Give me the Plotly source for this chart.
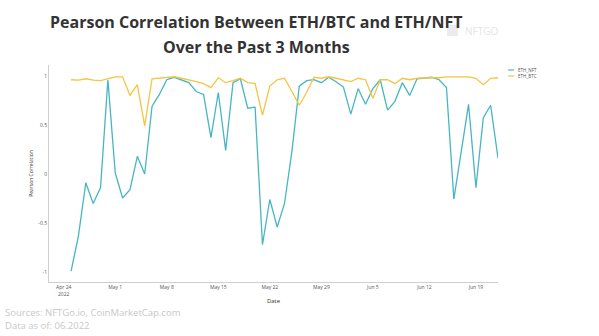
import pandas as pd
import plotly.graph_objects as go

dates = pd.date_range("2022-04-25", "2022-06-22", freq="D")

eth_nft = [-0.99, -0.63, -0.09, -0.30, -0.14, 0.96, 0.01, -0.245, -0.16, 0.18,
           0.0, 0.69, 0.81, 0.96, 0.985, 0.96, 0.93, 0.84, 0.81, 0.37,
           0.83, 0.24, 0.93, 0.97, 0.67, 0.68, -0.72, -0.26, -0.54, -0.30,
           0.23, 0.895, 0.95, 0.96, 0.93, 0.985, 0.94, 0.885, 0.61, 0.87,
           0.71, 0.87, 0.96, 0.65, 0.74, 0.93, 0.80, 0.97, 0.975, 0.985,
           0.96, 0.88, -0.255, 0.21, 0.71, -0.14, 0.57, 0.70, 0.16]

eth_btc = [0.96, 0.955, 0.97, 0.955, 0.95, 0.97, 0.99, 0.99, 0.80, 0.91,
           0.49, 0.97, 0.975, 0.98, 0.99, 0.975, 0.96, 0.94, 0.92, 0.88,
           0.98, 0.93, 0.95, 0.975, 0.93, 0.92, 0.60, 0.895, 0.96, 0.975,
           0.84, 0.70, 0.83, 0.985, 0.975, 0.99, 0.975, 0.96, 0.94, 0.975,
           0.96, 0.77, 0.96, 0.96, 0.92, 0.975, 0.96, 0.975, 0.98, 0.98,
           0.98, 0.99, 0.99, 0.99, 0.99, 0.975, 0.91, 0.975, 0.98]

series_names = ["ETH_NFT", "ETH_BTC"]
series_colors = ["#47b6c2", "#f4c443"]

x_tick_vals = ["2022-04-24", "2022-05-01", "2022-05-08", "2022-05-15", "2022-05-22",
               "2022-05-29", "2022-06-05", "2022-06-12", "2022-06-19"]
x_tick_text = ["Apr 24<br>2022", "May 1", "May 8", "May 15", "May 22",
               "May 29", "Jun 5", "Jun 12", "Jun 19"]
y_tick_vals = [1, 0.5, 0, -0.5, -1]
y_tick_text = ["1", "0.5", "0", "-0.5", "-1"]

L, R, T, B = 49, 498, 65, 282
W, H = R - L, B - T


def px(xp):
    return (xp - L) / W


def py(yp):
    return (B - yp) / H


fig = go.Figure()
for name, vals, col in zip(series_names, [eth_nft, eth_btc], series_colors):
    fig.add_trace(go.Scatter(x=dates, y=vals, mode="lines", name=name,
                             line=dict(color=col, width=1.3), showlegend=False))

fig.update_layout(
    width=599, height=336,
    margin=dict(l=L, r=599 - R, t=T, b=336 - B),
    paper_bgcolor="white", plot_bgcolor="white",
    font=dict(family="Open Sans", color="#444"),
    xaxis=dict(range=["2022-04-22", "2022-06-22"], tickvals=x_tick_vals,
               ticktext=x_tick_text, tickfont=dict(size=5, color="#555"),
               showgrid=False, zeroline=False, showline=True,
               linecolor="#cfcfcf", linewidth=1, ticks="",
               title=dict(text="Date", font=dict(size=6, color="#333"), standoff=3)),
    yaxis=dict(range=[-1.1, 1.11], tickvals=y_tick_vals, ticktext=y_tick_text,
               tickfont=dict(size=5, color="#555"), showgrid=False,
               zeroline=False, showline=True, linecolor="#cfcfcf", linewidth=1,
               ticks="", title=dict(text="Pearson Correlation",
                                    font=dict(size=5, color="#333"), standoff=4)),
)

# custom compact legend
for i, (name, col) in enumerate(zip(series_names, series_colors)):
    yy = 70 + 6 * i
    fig.add_shape(type="line", xref="paper", yref="paper",
                  x0=px(508), x1=px(514), y0=py(yy), y1=py(yy),
                  line=dict(color=col, width=1.2))
    fig.add_annotation(text=name, xref="paper", yref="paper", x=px(516), y=py(yy),
                       xanchor="left", yanchor="middle", showarrow=False,
                       font=dict(size=4.5, color="#555"))

fig.add_annotation(text="<b>Pearson Correlation Between ETH/BTC and ETH/NFT</b>",
                   xref="paper", yref="paper", x=px(256), y=py(22),
                   xanchor="center", yanchor="middle", showarrow=False,
                   font=dict(family="Open Sans", size=16, color="#333"))
fig.add_annotation(text="<b>Over the Past 3 Months</b>",
                   xref="paper", yref="paper", x=px(256), y=py(47),
                   xanchor="center", yanchor="middle", showarrow=False,
                   font=dict(family="Open Sans", size=16, color="#333"))

# watermark
fig.add_shape(type="rect", xref="paper", yref="paper",
              x0=px(447), x1=px(458), y0=py(36), y1=py(25),
              line=dict(width=0), fillcolor="#ececec", layer="below")
fig.add_annotation(text="NFTGO", xref="paper", yref="paper",
                   x=px(463), y=py(31), xanchor="left",
                   yanchor="middle", showarrow=False,
                   font=dict(family="Open Sans", size=10, color="#e4e4e4"))

fig.add_annotation(text="Sources: NFTGo.io, CoinMarketCap.com", xref="paper",
                   yref="paper", x=px(3), y=py(312),
                   xanchor="left", yanchor="middle", showarrow=False,
                   font=dict(family="Open Sans", size=9.5, color="#c8c8c8"))
fig.add_annotation(text="Data as of: 06.2022", xref="paper",
                   yref="paper", x=px(3), y=py(325),
                   xanchor="left", yanchor="middle", showarrow=False,
                   font=dict(family="Open Sans", size=9.5, color="#c8c8c8"))

fig.write_html("out.html")
